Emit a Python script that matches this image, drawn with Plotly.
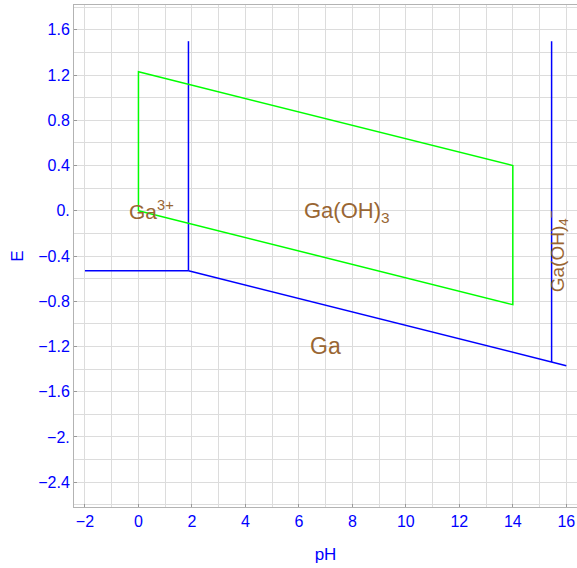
import plotly.graph_objects as go

# Data (pH, E) for the boundary lines
blue_h_ph = [-2, 1.87]
blue_h_e = [-0.53, -0.53]
blue_v1_ph = [1.87, 1.87]
blue_v1_e = [-0.53, 1.5]
blue_s_ph = [1.87, 16]
blue_s_e = [-0.53, -1.37]
blue_v2_ph = [15.45, 15.45]
blue_v2_e = [-1.337, 1.5]
green_ph = [0, 0, 14, 14, 0]
green_e = [0, 1.23, 0.40, -0.83, 0]

labels = ["Ga<sup>3+</sup>", "Ga(OH)<sub>3</sub>", "Ga", "Ga(OH)<sub>4</sub><sup>−</sup>"]
label_ph = [0.5, 7.8, 7.0, 15.68]
label_e = [0.01, -0.01, -1.2, -0.36]
label_size = [21, 22, 23, 19]
label_angle = [0, 0, 0, -90]

x_ticks = [-2, 0, 2, 4, 6, 8, 10, 12, 14, 16]
x_ticktext = ["−2", "0", "2", "4", "6", "8", "10", "12", "14", "16"]
y_ticks = [-2.4, -2.0, -1.6, -1.2, -0.8, -0.4, 0.0, 0.4, 0.8, 1.2, 1.6]
y_ticktext = ["−2.4", "−2.", "−1.6", "−1.2", "−0.8", "−0.4", "0.", "0.4", "0.8", "1.2", "1.6"]

BLUE = "#0000FF"
GREEN = "#00FF00"
BROWN = "#996633"
FONT = "Liberation Sans, Arial, sans-serif"

fig = go.Figure()
for xs, ys in [(blue_h_ph, blue_h_e), (blue_v1_ph, blue_v1_e), (blue_s_ph, blue_s_e), (blue_v2_ph, blue_v2_e)]:
    fig.add_trace(go.Scatter(x=xs, y=ys, mode="lines", line=dict(color=BLUE, width=1.5),
                             showlegend=False, hoverinfo="skip"))
fig.add_trace(go.Scatter(x=green_ph, y=green_e, mode="lines", line=dict(color=GREEN, width=1.5),
                         showlegend=False, hoverinfo="skip"))

for t, xp, yp, s, a in zip(labels, label_ph, label_e, label_size, label_angle):
    fig.add_annotation(x=xp, y=yp, text=t, showarrow=False, textangle=a,
                       font=dict(family=FONT, size=s, color=BROWN),
                       xanchor="center", yanchor="middle")

axis_common = dict(
    showline=True, linecolor="#b3b3b3", linewidth=1, mirror=True,
    showgrid=True, gridcolor="#dcdcdc", gridwidth=1,
    zeroline=False, ticks="inside", ticklen=3, tickcolor="#999999",
    tickfont=dict(family=FONT, size=16, color=BLUE),
)

fig.update_xaxes(range=[-2.41, 16.4], tickvals=x_ticks, ticktext=x_ticktext,
                 minor=dict(dtick=1, tick0=0, showgrid=True, gridcolor="#dcdcdc", ticks=""),
                 title=dict(text="pH", font=dict(family=FONT, size=17, color=BLUE), standoff=18),
                 **axis_common)
fig.update_yaxes(range=[-2.62, 1.82], tickvals=y_ticks, ticktext=y_ticktext,
                 minor=dict(dtick=0.2, tick0=0, showgrid=True, gridcolor="#dcdcdc", ticks=""),
                 title=dict(text="E", font=dict(family=FONT, size=17, color=BLUE), standoff=10),
                 **axis_common)

fig.update_layout(
    width=577, height=568,
    margin=dict(l=74, r=0, t=5, b=61),
    plot_bgcolor="white", paper_bgcolor="white",
)

fig.write_html("out.html")
